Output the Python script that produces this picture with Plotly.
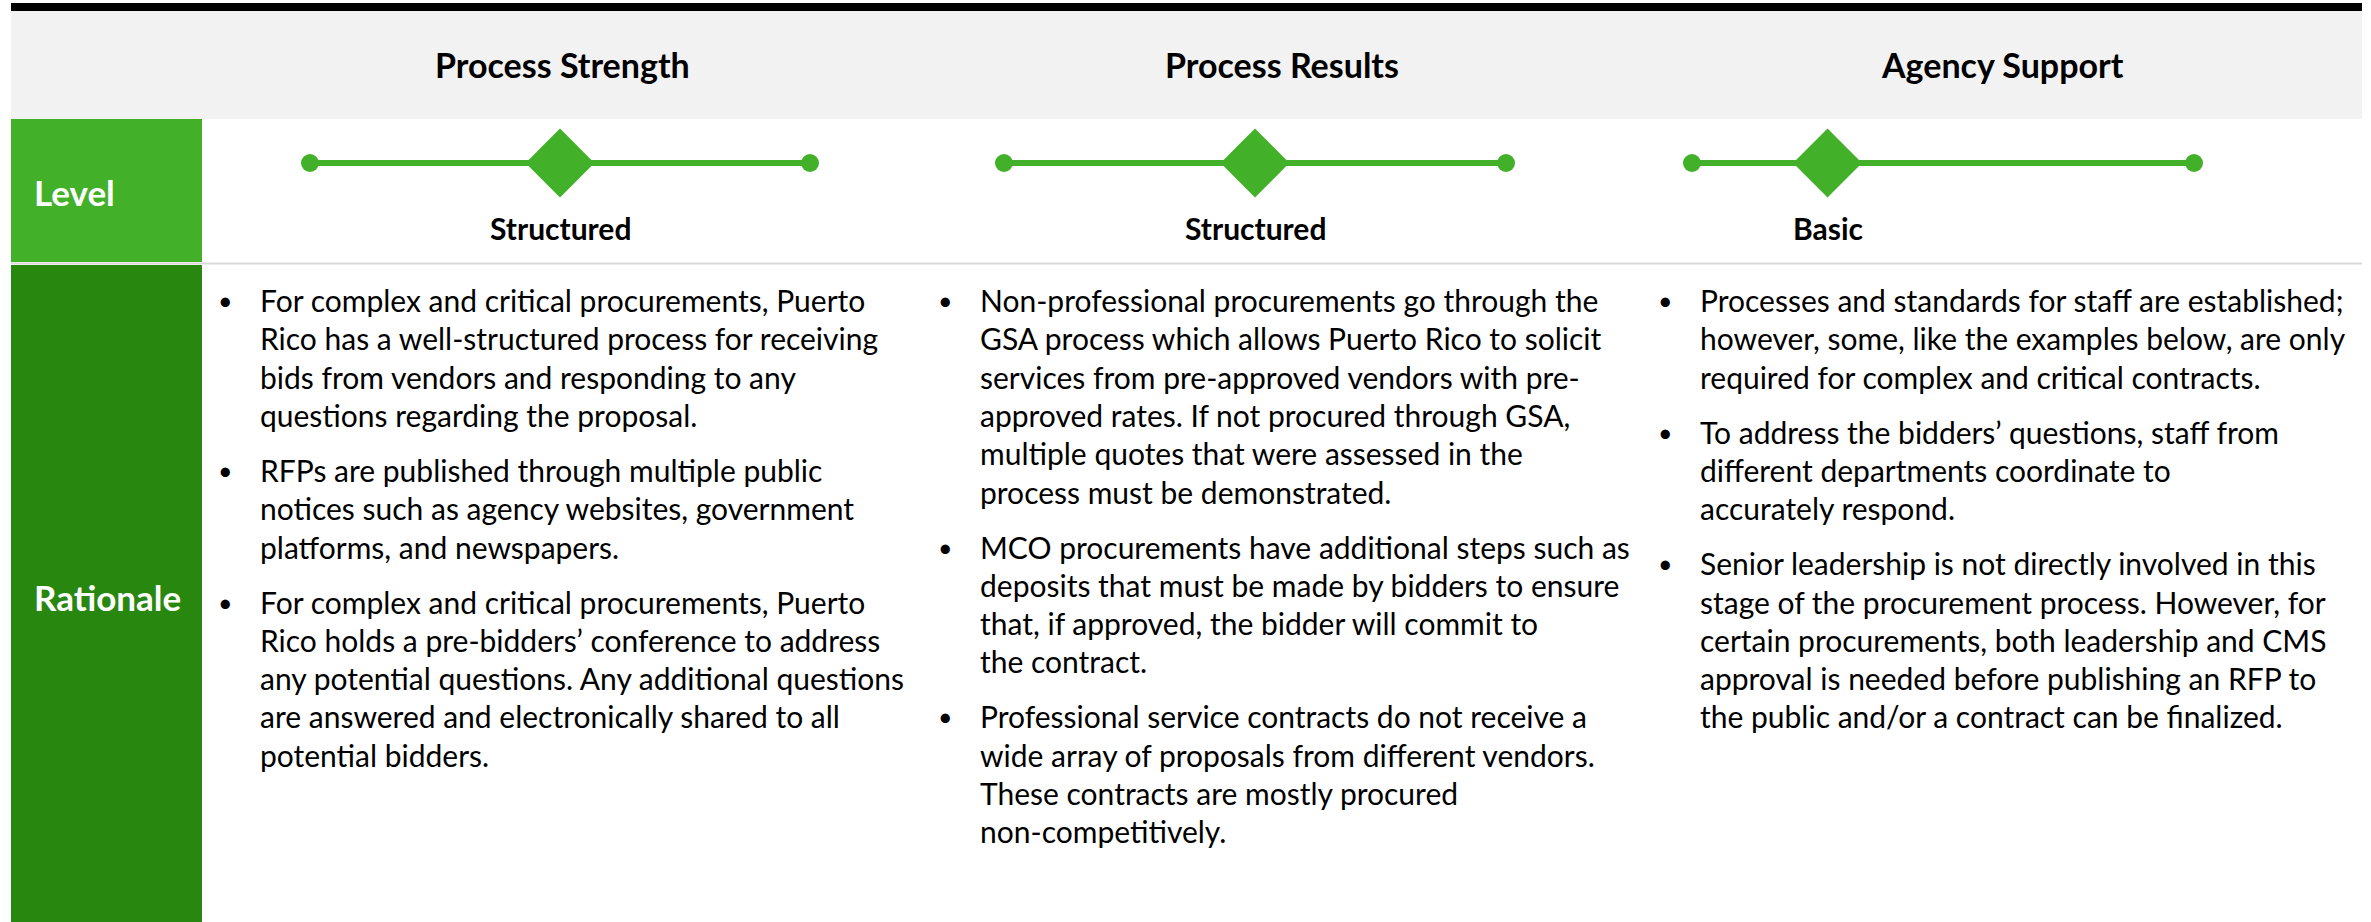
import plotly.graph_objects as go

W, H = 2371, 922

# ---------------- data ----------------
columns = ["Process Strength", "Process Results", "Agency Support"]
level_labels = ["Structured", "Structured", "Basic"]
# where the diamond sits on each level scale (0 = left end, 1 = right end)
level_position = [0.5, 0.5, 0.27]
row_labels = ["Level", "Rationale"]

rationale_strength = [
    ["For complex and critical procurements, Puerto",
     "Rico has a well-structured process for receiving",
     "bids from vendors and responding to any",
     "questions regarding the proposal."],
    ["RFPs are published through multiple public",
     "notices such as agency websites, government",
     "platforms, and newspapers."],
    ["For complex and critical procurements, Puerto",
     "Rico holds a pre-bidders’ conference to address",
     "any potential questions. Any additional questions",
     "are answered and electronically shared to all",
     "potential bidders."],
]
rationale_results = [
    ["Non-professional procurements go through the",
     "GSA process which allows Puerto Rico to solicit",
     "services from pre-approved vendors with pre-",
     "approved rates. If not procured through GSA,",
     "multiple quotes that were assessed in the",
     "process must be demonstrated."],
    ["MCO procurements have additional steps such as",
     "deposits that must be made by bidders to ensure",
     "that, if approved, the bidder will commit to",
     "the contract."],
    ["Professional service contracts do not receive a",
     "wide array of proposals from different vendors.",
     "These contracts are mostly procured",
     "non-competitively."],
]
rationale_support = [
    ["Processes and standards for staff are established;",
     "however, some, like the examples below, are only",
     "required for complex and critical contracts."],
    ["To address the bidders’ questions, staff from",
     "different departments coordinate to",
     "accurately respond."],
    ["Senior leadership is not directly involved in this",
     "stage of the procurement process. However, for",
     "certain procurements, both leadership and CMS",
     "approval is needed before publishing an RFP to",
     "the public and/or a contract can be finalized."],
]
rationales = [rationale_strength, rationale_results, rationale_support]

# ---------------- layout constants ----------------
LEFT, RIGHT, LABEL_R = 11, 2362, 202
COL_W = (RIGHT - LABEL_R) / 3
HEADER_TOP, HEADER_BOT = 11, 119
LEVEL_BOT, SEP_Y, RAT_TOP = 262, 263.5, 265
SLIDER_Y = 163
LEVEL_TEXT_Y = 228
slider_spans = [(310, 810), (1004, 1506), (1692, 2194)]
text_offset = 56
LINE_H = 38.3
PARA_GAP = 16.7
FIRST_LINE_Y = 300

GREEN = "#43B02A"
DARK_GREEN = "#28870F"
FONT = "Lato"
BODY = 30

fig = go.Figure()

shapes = [
    dict(type="rect", x0=LEFT, x1=RIGHT, y0=3, y1=HEADER_TOP, fillcolor="#000000", line_width=0),
    dict(type="rect", x0=LEFT, x1=RIGHT, y0=HEADER_TOP, y1=HEADER_BOT, fillcolor="#F2F2F2", line_width=0),
    dict(type="rect", x0=LEFT, x1=LABEL_R, y0=HEADER_BOT, y1=LEVEL_BOT, fillcolor=GREEN, line_width=0),
    dict(type="rect", x0=LEFT, x1=LABEL_R, y0=RAT_TOP, y1=H, fillcolor=DARK_GREEN, line_width=0),
    dict(type="line", x0=LEFT, x1=RIGHT, y0=SEP_Y, y1=SEP_Y, line=dict(color="#D9D9D9", width=2)),
]
for s in shapes:
    s.update(xref="x", yref="y", layer="below")

annotations = []

def add_text(x, y, text, size, bold=False, color="#000000", xanchor="center", xref="x"):
    annotations.append(dict(
        x=x, y=y, xref=xref, yref="y", text=text, showarrow=False,
        xanchor=xanchor, yanchor="middle",
        font=dict(family=FONT, size=size, color=color, weight="bold" if bold else "normal"),
    ))

# row labels
add_text(32, 192, row_labels[0], 35, bold=True, color="#FFFFFF", xanchor="left")
add_text(32, 597, row_labels[1], 35, bold=True, color="#FFFFFF", xanchor="left")

layout_axes = {}
for i, name in enumerate(columns):
    cx = LABEL_R + COL_W * (i + 0.5)
    add_text(cx, 64, name, 34, bold=True)

    # level slider on its own x axis (0..1 scale)
    ax = f"x{i + 2}"
    x0, x1 = slider_spans[i]
    layout_axes[f"xaxis{i + 2}"] = dict(domain=[x0 / W, x1 / W], range=[0, 1], visible=False, fixedrange=True)
    fig.add_trace(go.Scatter(
        x=[0, 1], y=[SLIDER_Y, SLIDER_Y], xaxis=ax, yaxis="y",
        mode="lines+markers", line=dict(color=GREEN, width=6),
        marker=dict(color=GREEN, size=18, symbol="circle"),
        cliponaxis=False, hoverinfo="skip", showlegend=False,
    ))
    fig.add_trace(go.Scatter(
        x=[level_position[i]], y=[SLIDER_Y], xaxis=ax, yaxis="y",
        mode="markers",
        marker=dict(color=GREEN, size=53, symbol="diamond", line_width=0),
        cliponaxis=False, hoverinfo="skip", showlegend=False,
    ))
    add_text(level_position[i], LEVEL_TEXT_Y, level_labels[i], 30, bold=True, xref=ax)

    # rationale bullets
    tx = LABEL_R + COL_W * i + text_offset
    y = FIRST_LINE_Y
    for para in rationales[i]:
        add_text(tx - 33, y, "•", 25)
        for line in para:
            add_text(tx, y, line, BODY, xanchor="left")
            y += LINE_H
        y += PARA_GAP

fig.update_layout(
    width=W, height=H,
    margin=dict(l=0, r=0, t=0, b=0),
    paper_bgcolor="#FFFFFF", plot_bgcolor="rgba(0,0,0,0)",
    xaxis=dict(domain=[0, 1], range=[0, W], visible=False, fixedrange=True),
    yaxis=dict(domain=[0, 1], range=[H, 0], visible=False, fixedrange=True),
    shapes=shapes, annotations=annotations,
    **layout_axes,
)

fig.write_html("out.html", post_script="document.body.style.margin='0px';",
               config={"displayModeBar": False})
